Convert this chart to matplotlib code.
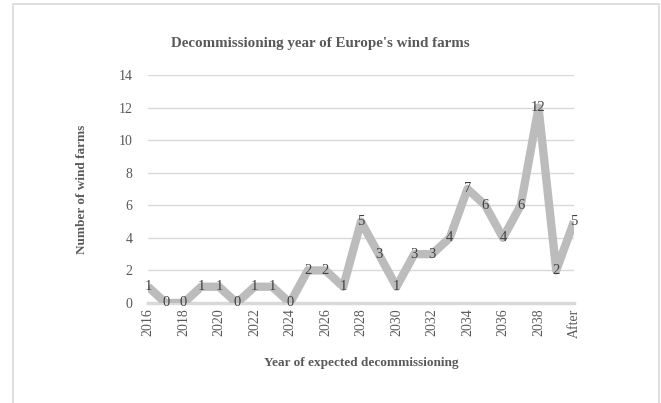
import matplotlib as mpl
mpl.use("Agg")
import matplotlib.pyplot as plt
from matplotlib.patches import Rectangle

mpl.rcParams.update({
    "font.family": "serif",
    "font.serif": ["Liberation Serif", "DejaVu Serif"],
})

# ── Data ──────────────────────────────────────────────────────────────────────
years = [str(y) for y in range(2016, 2040)] + ["After"]
counts = [1, 0, 0, 1, 1, 0, 1, 1, 0, 2, 2, 1, 5, 3, 1, 3, 3, 4, 7, 6, 4, 6, 12, 2, 5]
y_ticks = [0, 2, 4, 6, 8, 10, 12, 14]

TEXT = "#595959"
LINE = "#bcbcbc"
GRID = "#d9d9d9"

fig = plt.figure(figsize=(6.61, 4.03), dpi=100)
ax = fig.add_axes([148 / 661, 1 - 303 / 403, (574 - 148) / 661, (303 - 75) / 403])

# chart-area border
fig.patches.append(Rectangle((13 / 661, -0.05), (659 - 13) / 661, 1.05 - 4 / 403,
                             transform=fig.transFigure, fill=False,
                             ec="#dcdcdc", lw=1.3))

x = list(range(len(years)))
ax.plot(x, counts, color=LINE, lw=6, solid_joinstyle="round",
        solid_capstyle="butt", zorder=3)
for xi, v in zip(x, counts):
    ax.text(xi, v, str(v), ha="center", va="center", fontsize=10.5,
            color="#404040", zorder=4)

ax.set_xlim(0, len(years) - 1)
ax.set_ylim(0, 14)
ax.set_yticks(y_ticks)
ax.set_yticklabels([str(t) for t in y_ticks], fontsize=10, color=TEXT)
ax.set_xticks(x[::2])
ax.set_xticklabels(years[::2], rotation=90, fontsize=10, color=TEXT)
ax.tick_params(axis="y", length=0, pad=11)
ax.tick_params(axis="x", length=0, pad=4)
ax.yaxis.grid(True, color=GRID, lw=1.0)
ax.set_axisbelow(True)
for s in ["top", "right", "left"]:
    ax.spines[s].set_visible(False)
ax.spines["bottom"].set_color(GRID)
ax.spines["bottom"].set_linewidth(2.5)

ax.set_ylabel("Number of wind farms", fontsize=9.5, fontweight="bold",
              color=TEXT, labelpad=22)
ax.set_xlabel("Year of expected decommissioning", fontsize=9.5,
              fontweight="bold", color=TEXT, labelpad=14)
fig.text(320 / 661, 1 - 43 / 403, "Decommissioning year of Europe's wind farms",
         ha="center", va="center", fontsize=10.8, fontweight="bold", color=TEXT)

fig.savefig("out.png", dpi=100)
